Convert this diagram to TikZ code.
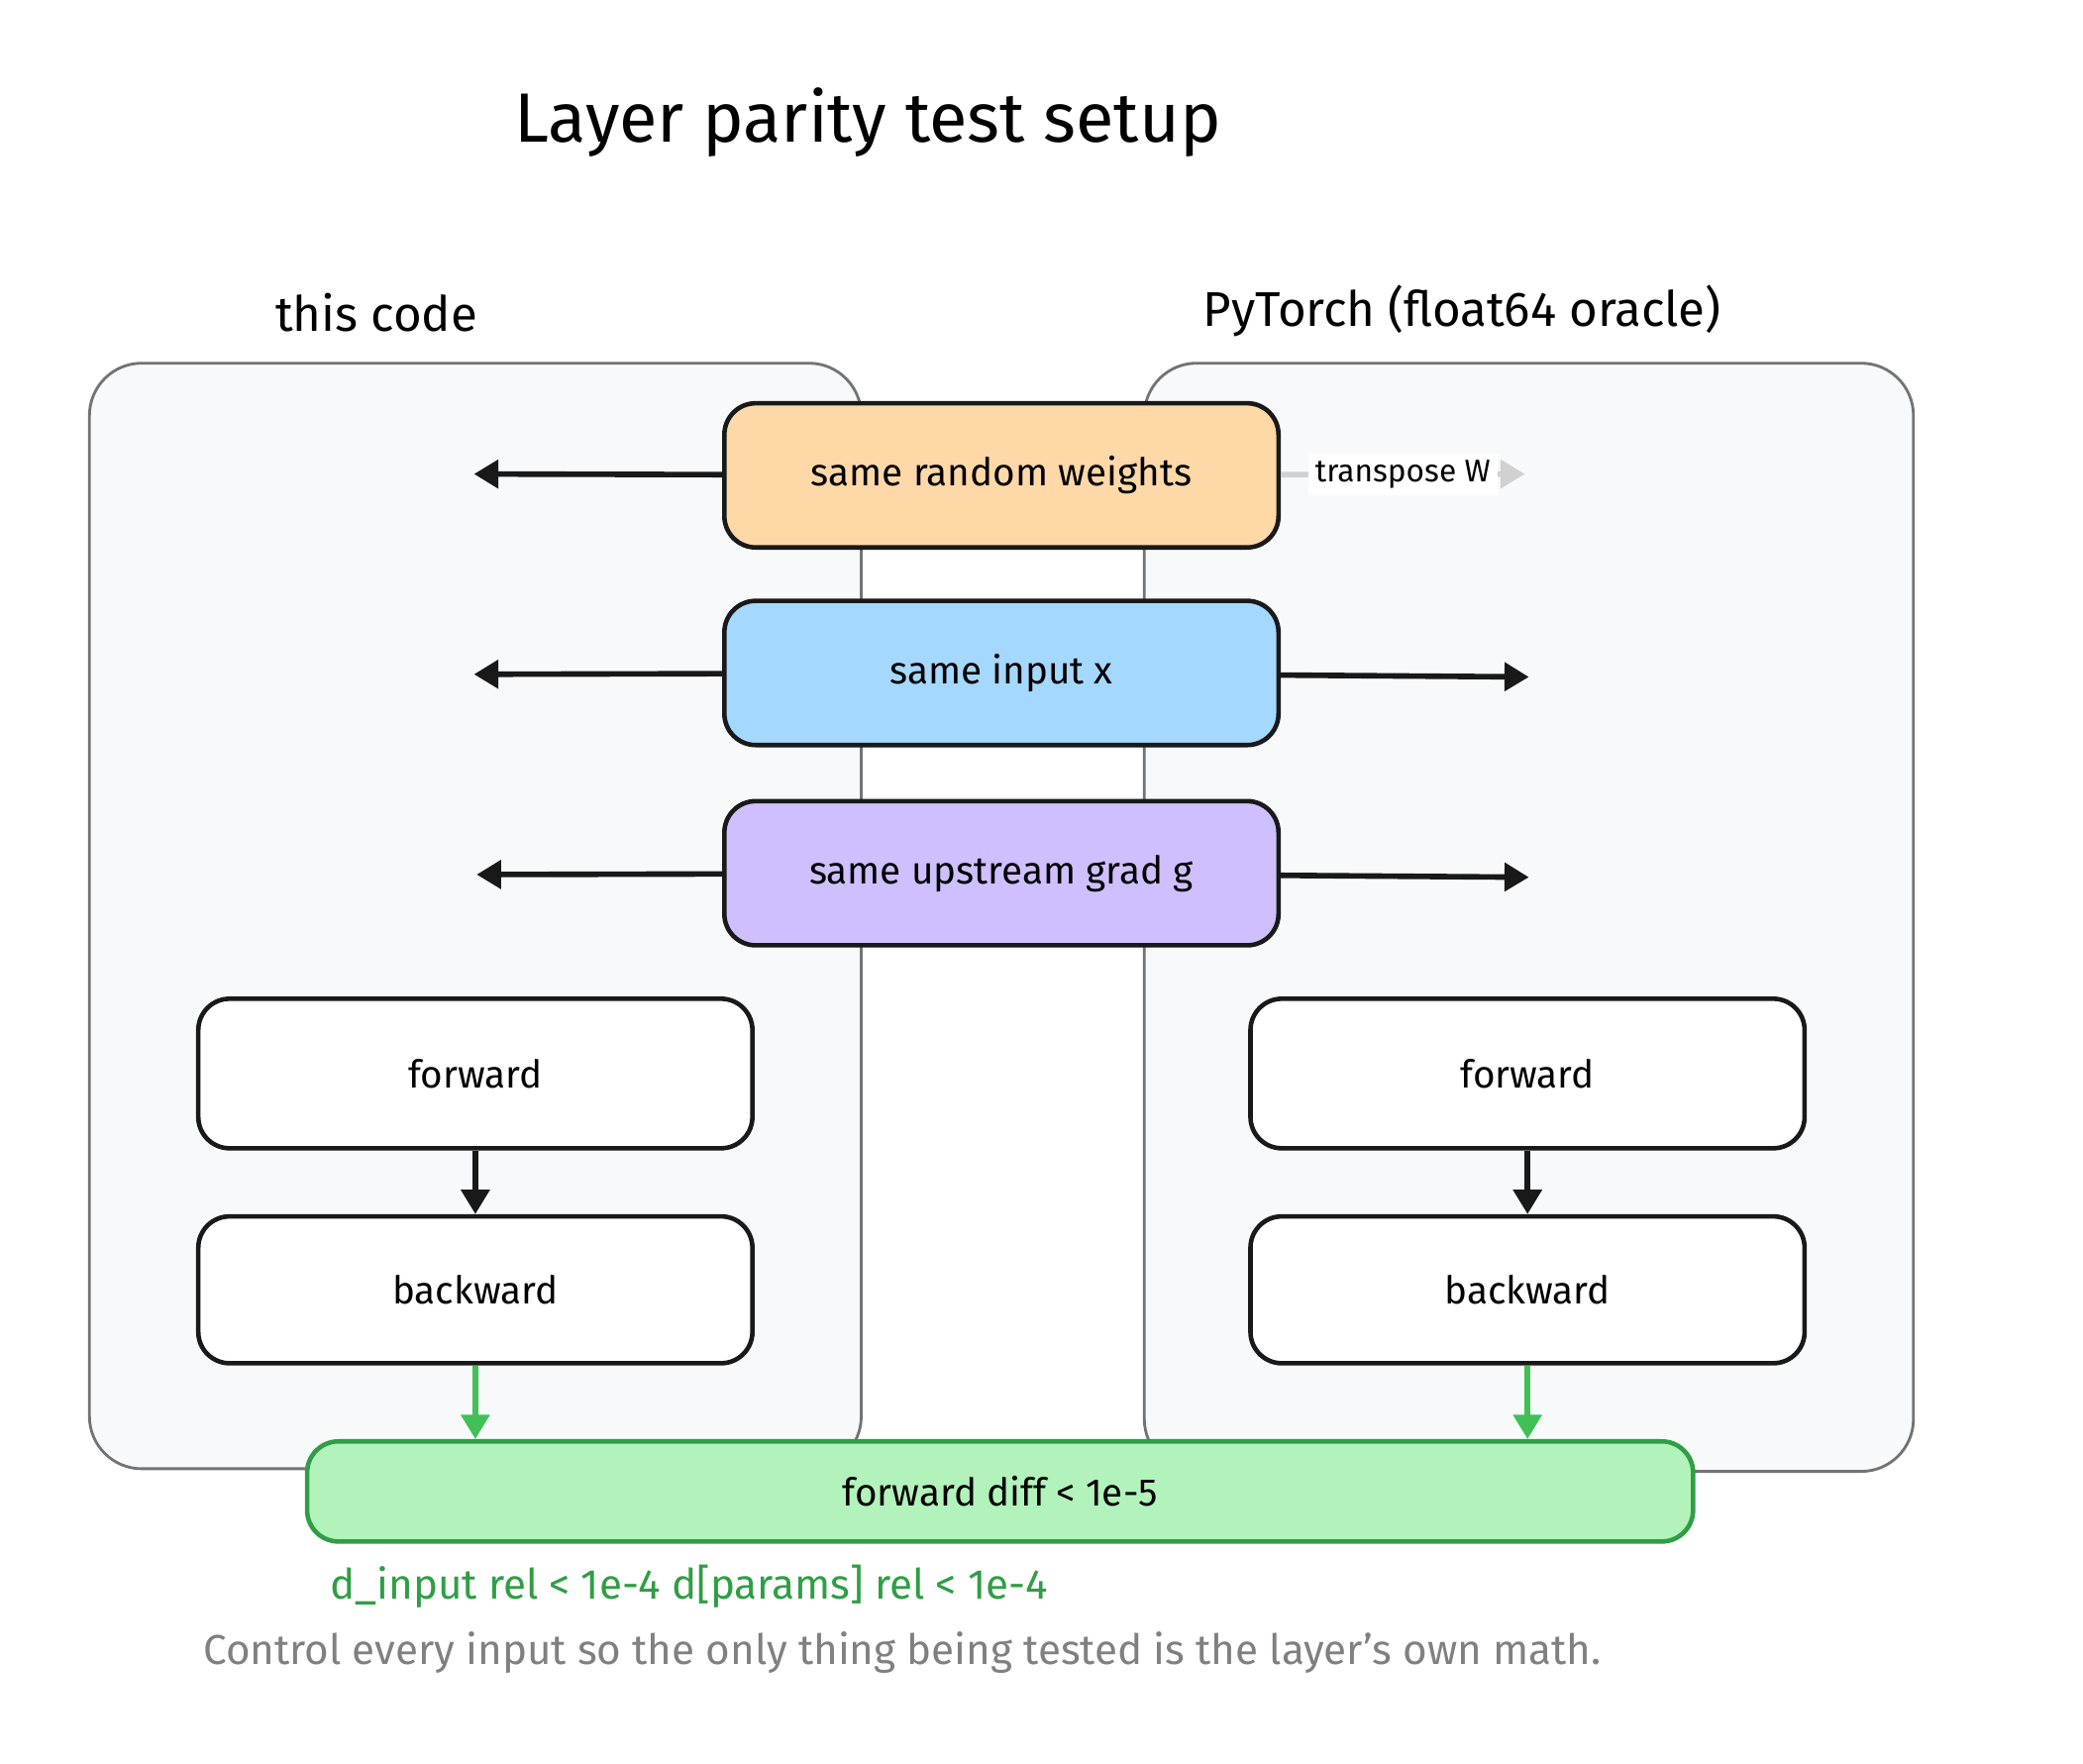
\documentclass[tikz,border=0pt]{standalone}
\usepackage{fontspec}
\setmainfont{Fira Sans}
\usetikzlibrary{arrows.meta,positioning}
\definecolor{pane}{HTML}{F8F9FA}
\definecolor{wfill}{HTML}{FFD8A8}
\definecolor{xfill}{HTML}{A5D8FF}
\definecolor{gfill}{HTML}{D0BFFF}
\definecolor{rfill}{HTML}{B2F2BB}
\definecolor{rline}{HTML}{2F9E44}
\definecolor{rarrow}{HTML}{40C057}
\tikzset{
  pane/.style={draw=black!55,line width=0.8pt,fill=pane,rounded corners=15pt},
  stage/.style={draw=black!90,line width=1.3pt,rounded corners=9pt,minimum width=415*0.01348cm,minimum height=108*0.01348cm,font=\fontsize{11}{13}\selectfont},
  feed/.style={-{Triangle[length=7pt,width=8pt]},line width=1.6pt,draw=black!90},
  down/.style={-{Triangle[length=7pt,width=8pt]},line width=1.6pt,draw=rarrow},
}
\begin{document}
\begin{tikzpicture}[x=0.01348cm,y=-0.01348cm]
\useasboundingbox (0,0) rectangle (1560,1321);
\fill[white] (0,0) rectangle (1560,1321);
\node[font=\fontsize{20}{24}\selectfont] (title) at (650,92) {Layer parity test setup};
\node[font=\fontsize{14}{17}\selectfont] (lhead) at (282,234) {this code};
\node[font=\fontsize{14}{17}\selectfont] (rhead) at (1095,233) {PyTorch (float64 oracle)};
% the two sides
\draw[pane] (67,272) rectangle (645,1100);
\draw[pane] (857,272) rectangle (1433,1102);
% shared inputs
\node[stage,fill=wfill] (weights) at (750,356) {same random weights};
\node[stage,fill=xfill] (input) at (750,504) {same input x};
\node[stage,fill=gfill] (grad) at (750,654) {same upstream grad g};
\coordinate (wl) at (355,355);
\coordinate (xl) at (355,505);
\coordinate (gl) at (357,655);
\coordinate (wr) at (1142,355);
\coordinate (xr) at (1145,507);
\coordinate (gr) at (1145,657);
\draw[feed] (weights) -- (wl);
\draw[feed] (input) -- (xl);
\draw[feed] (grad) -- (gl);
\draw[feed,draw=black!18] (weights) -- node[fill=white,inner sep=2pt,font=\fontsize{9}{11}\selectfont,text=black]{transpose W} (wr);
\draw[feed] (input) -- (xr);
\draw[feed] (grad) -- (gr);
% passes
\node[stage,fill=white,minimum height=112*0.01348cm] (lfwd) at (356,804) {forward};
\node[stage,fill=white,minimum height=110*0.01348cm] (lbwd) at (356,966) {backward};
\node[stage,fill=white,minimum height=112*0.01348cm] (rfwd) at (1144,804) {forward};
\node[stage,fill=white,minimum height=110*0.01348cm] (rbwd) at (1144,966) {backward};
\draw[feed] (lfwd) -- (lbwd);
\draw[feed] (rfwd) -- (rbwd);
% check
\node[stage,fill=rfill,draw=rline,minimum width=1038*0.01348cm,minimum height=75*0.01348cm] (check) at (749,1117) {forward diff < 1e-5};
\draw[down] (lbwd.south) -- (lbwd.south |- check.north);
\draw[down] (rbwd.south) -- (rbwd.south |- check.north);
\node[anchor=west,text=rline,font=\fontsize{12}{14}\selectfont] (tol) at (238,1188) {d\_input rel < 1e-4 d[params] rel < 1e-4};
\node[anchor=west,text=black!50,font=\fontsize{12}{14}\selectfont] (note) at (143,1238) {Control every input so the only thing being tested is the layer's own math.};
\end{tikzpicture}
\end{document}
